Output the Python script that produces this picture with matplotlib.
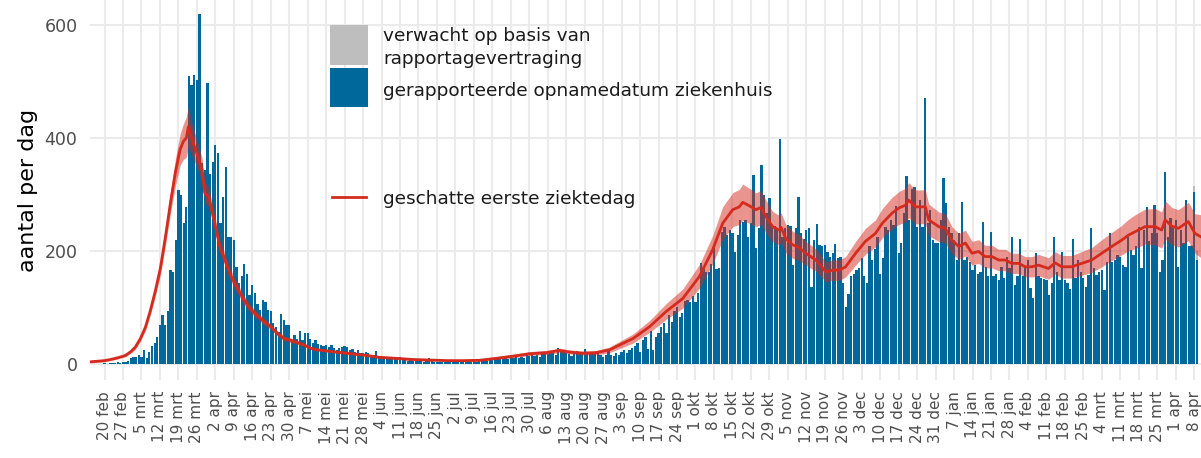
import numpy as np
import pandas as pd
import matplotlib
matplotlib.use("Agg")
import matplotlib.pyplot as plt
import matplotlib.dates as mdates
from matplotlib.patches import Rectangle
from matplotlib.lines import Line2D

# ---------------- data ----------------
start_date = "2020-02-20"   # day 0 of the bar series

# reported hospital admissions per day (day 0 = 20 feb 2020)
reported = [
    1, 0, 2, 1, 2, 3, 2, 4, 3, 5,
    10, 13, 13, 16, 12, 24, 10, 22, 31, 37,
    48, 69, 87, 69, 93, 166, 163, 219, 308, 299,
    249, 278, 510, 494, 511, 503, 619, 355, 343, 497,
    337, 358, 388, 373, 249, 296, 348, 225, 225, 219,
    172, 143, 155, 177, 160, 122, 140, 125, 107, 96,
    113, 110, 96, 93, 72, 66, 57, 88, 78, 69,
    69, 42, 51, 45, 59, 42, 55, 55, 45, 37,
    42, 35, 34, 31, 34, 30, 34, 28, 25, 28,
    30, 31, 30, 25, 26, 22, 25, 19, 19, 22,
    20, 16, 16, 23, 14, 13, 12, 10, 10, 13,
    9, 10, 12, 7, 7, 6, 8, 6, 5, 6,
    5, 4, 6, 10, 5, 4, 3, 4, 3, 4,
    3, 3, 4, 3, 4, 3, 4, 3, 5, 4,
    5, 4, 6, 5, 7, 6, 8, 7, 8, 10,
    9, 8, 10, 9, 13, 11, 12, 10, 13, 11,
    16, 14, 18, 15, 16, 13, 19, 17, 18, 20,
    20, 16, 29, 22, 22, 19, 17, 15, 21, 23,
    19, 17, 26, 20, 18, 17, 20, 19, 16, 13,
    16, 25, 16, 15, 19, 16, 22, 25, 19, 25,
    29, 31, 38, 22, 42, 47, 26, 59, 25, 48,
    54, 66, 72, 54, 87, 75, 93, 100, 84, 90,
    112, 114, 110, 120, 110, 126, 178, 169, 163, 163,
    177, 211, 168, 169, 234, 243, 228, 237, 231, 199,
    228, 255, 252, 255, 225, 250, 334, 205, 240, 352,
    299, 267, 293, 246, 244, 237, 398, 225, 240, 246,
    244, 175, 240, 295, 231, 222, 237, 240, 137, 219,
    248, 211, 208, 211, 199, 190, 196, 212, 187, 190,
    143, 100, 124, 155, 160, 166, 169, 187, 155, 143,
    208, 184, 203, 225, 160, 187, 243, 237, 255, 246,
    280, 196, 214, 267, 332, 255, 309, 313, 243, 290,
    243, 470, 249, 273, 219, 214, 214, 255, 329, 284,
    243, 231, 219, 184, 231, 286, 184, 190, 181, 166,
    175, 160, 163, 252, 172, 155, 234, 155, 160, 149,
    172, 152, 190, 170, 225, 140, 155, 221, 155, 172,
    184, 134, 116, 196, 155, 152, 150, 149, 122, 143,
    224, 163, 149, 199, 149, 143, 132, 221, 153, 184,
    163, 153, 137, 158, 240, 169, 158, 163, 166, 131,
    181, 231, 181, 184, 193, 190, 175, 172, 225, 202,
    193, 208, 243, 169, 237, 278, 217, 231, 281, 231,
    163, 184, 340, 225, 258, 243, 255, 172, 237, 214,
    290, 208, 208, 305, 184,
]

# expected extra (reporting delay) on the last days
expected_days = [412, 413, 414]
expected_extra = [3, 10, 16]

# estimated first day of illness: day, mean, lower, upper
line_days = [
    -5, 0, 2.3, 5, 7.9, 10, 11.7, 13.6, 15.5, 17.4, 19.3, 21.2, 23.1, 25, 26.9, 28.7, 29.9, 31, 31.8,
    33, 35, 37, 38, 39.5,
    41.5, 44, 45, 47.5, 50, 52.5, 55, 58, 60.5, 63, 65.5, 68, 70.5, 73, 75.5, 78, 80.5, 83, 86, 92,
    98, 104, 110.7, 117, 123, 130, 136, 142, 148.5, 155, 161, 167.4, 172.5, 176.3, 181.3, 186.3, 191.4, 194, 200.3, 206.6,
    212.9, 219.2, 225.5, 230.5, 234.3, 238.1, 240.6, 241.9, 244.4, 246.9, 248.8, 250.7, 253.2, 255.7, 256.4, 258.2, 260.8, 263.3, 265.8, 269.6,
    273.4, 276, 278.5, 280.9, 284.7, 288.4, 292.2, 294.8, 298.5, 301.1, 303.6, 304.8, 307.4, 311.1, 312.4, 316.2, 318.7, 321.2, 323.8, 326.3,
    328.8, 331.3, 333.8, 336.4, 338.9, 341.4, 343.9, 346.5, 349, 351.5, 354, 357.8, 360.3, 362.8, 366.6, 370.4, 374.2, 378, 381.8, 385.5,
    388.1, 390.6, 394.4, 398.2, 400.7, 402, 404.5, 407, 410.8, 413.3, 415.6,
]
line_mid = [
    4, 6, 8, 11, 15, 22, 30, 45, 65, 95, 130, 170, 225, 285, 340, 380, 394, 400, 420,
    399, 373, 343, 302, 296,
    255, 202, 193, 160, 137, 116, 99, 85, 75, 66, 54, 45, 42, 38, 34, 28, 25, 24, 22, 19,
    16, 12, 10, 8, 7, 6, 6, 6.5, 10, 14, 18, 20, 24, 21, 19, 20, 25, 31, 45, 66,
    93, 116, 155, 202, 249, 273, 278, 286, 280, 273, 277, 261, 243, 237, 242, 222, 211, 206, 196, 184,
    163, 166, 166, 172, 196, 217, 231, 249, 267, 276, 281, 290, 278, 278, 255, 243, 240, 219, 208, 214,
    196, 199, 190, 190, 184, 184, 178, 178, 172, 172, 175, 169, 179, 172, 172, 178, 184, 196, 208, 219,
    228, 234, 243, 243, 237, 255, 244, 240, 252, 231, 225,
]
line_lo = [
    2, 4, 6, 9, 13, 19, 26, 40, 59, 87, 120, 158, 210, 266, 316, 352, 362, 366, 385,
    370, 348, 322, 284, 279,
    241, 191, 182, 150, 128, 108, 92, 79, 69, 61, 50, 41, 38, 35, 31, 26, 23, 22, 20, 17,
    14, 10, 8, 6, 5, 5, 5, 5, 8, 11, 15, 17, 20, 18, 16, 16, 20, 25, 37, 56,
    79, 99, 134, 177, 220, 243, 247, 254, 249, 243, 247, 232, 216, 211, 216, 197, 187, 183, 175, 164,
    145, 148, 148, 154, 175, 194, 207, 223, 239, 247, 251, 259, 248, 248, 227, 217, 214, 195, 185, 191,
    175, 178, 170, 170, 165, 165, 160, 160, 154, 154, 156, 150, 159, 152, 152, 157, 162, 172, 183, 193,
    200, 204, 212, 211, 205, 221, 211, 207, 218, 196, 188,
]
line_hi = [
    6, 8, 10, 13, 18, 25, 34, 50, 71, 103, 140, 183, 241, 305, 364, 408, 425, 437, 456,
    428, 397, 364, 322, 313,
    269, 214, 204, 170, 146, 124, 106, 91, 81, 71, 59, 50, 46, 42, 37, 31, 28, 27, 25, 22,
    18, 14, 12, 10, 9, 8, 8, 9, 13, 17, 22, 24, 28, 25, 23, 24, 30, 37, 53, 77,
    107, 133, 176, 227, 278, 303, 309, 318, 311, 303, 307, 290, 270, 263, 268, 247, 235, 229, 217, 204,
    181, 184, 184, 190, 217, 240, 255, 275, 295, 305, 311, 321, 308, 308, 283, 269, 266, 243, 231, 237,
    217, 220, 210, 210, 203, 203, 196, 196, 190, 190, 194, 188, 199, 192, 192, 199, 206, 220, 233, 245,
    256, 264, 274, 275, 269, 289, 277, 273, 286, 266, 264,
]

yticks = [0, 200, 400, 600]
months_nl = ["jan", "feb", "mrt", "apr", "mei", "jun", "jul", "aug", "sep", "okt", "nov", "dec"]
tick_first = "2020-02-20"
tick_last = "2021-04-08"

legend_labels = ["verwacht op basis van\nrapportagevertraging",
                 "gerapporteerde opnamedatum ziekenhuis",
                 "geschatte eerste ziektedag"]
ylabel = "aantal per dag"

# ---------------- style ----------------
BLUE = "#01689B"
GRAY = "#BEBEBE"
RED = "#D52B1E"
GRID = "#EBEBEB"
TXT = "#4D4D4D"

W, H = 1201, 458
fig = plt.figure(figsize=(W / 100, H / 100), dpi=100)
ax = fig.add_axes([90 / W, 1 - 380 / H, (W - 90) / W, 380 / H])

base = mdates.date2num(pd.Timestamp(start_date))
xb = base + np.arange(len(reported))
rep = np.array(reported, dtype=float)

ax.bar(xb, rep, width=0.86, color=BLUE, linewidth=0, zorder=2)
ed = np.array(expected_days)
ax.bar(base + ed, expected_extra, bottom=rep[ed], width=0.86, color=GRAY,
       linewidth=0, zorder=2)

xl = base + np.array(line_days)
ax.fill_between(xl, line_lo, line_hi, color=RED, alpha=0.5, linewidth=0, zorder=3)
ax.plot(xl, line_mid, color=RED, lw=2.0, zorder=4, solid_joinstyle="round")

ax.set_xlim(base - 5.5, base + 415.6)
ax.set_ylim(-28.3, 644)

tick_dates = pd.date_range(tick_first, tick_last, freq="7D")
ax.set_xticks(mdates.date2num(tick_dates))
ax.set_xticklabels([f"{d.day} {months_nl[d.month - 1]}" for d in tick_dates],
                   rotation=90, fontsize=11, color=TXT)
ax.set_yticks(yticks)
ax.set_yticklabels([str(v) for v in yticks], fontsize=12.5, color=TXT)
ax.tick_params(axis="both", length=0)
ax.tick_params(axis="x", pad=8)
ax.tick_params(axis="y", pad=9)

ax.grid(True, color=GRID, lw=1.5)
ax.set_axisbelow(True)
for s in ax.spines.values():
    s.set_visible(False)


def fx(px):
    return px / W


def fy(py):
    return 1 - py / H


fig.text(fx(28), fy(190), ylabel, rotation=90, ha="center", va="center", fontsize=16)

# legend (manual)
fig.patches.append(Rectangle((fx(330), fy(65)), 38 / W, 40 / H, transform=fig.transFigure,
                             facecolor=GRAY, edgecolor="none"))
fig.patches.append(Rectangle((fx(330), fy(107)), 38 / W, 39 / H, transform=fig.transFigure,
                             facecolor=BLUE, edgecolor="none"))
fig.lines.append(Line2D([fx(332), fx(366)], [fy(197), fy(197)], transform=fig.transFigure,
                        color=RED, lw=2.0))
l1, l2 = legend_labels[0].split("\n")
LFS = 13.3
fig.text(fx(383), fy(41), l1, fontsize=LFS, va="baseline", ha="left", color="#1A1A1A")
fig.text(fx(383), fy(64), l2, fontsize=LFS, va="baseline", ha="left", color="#1A1A1A")
fig.text(fx(383), fy(96), legend_labels[1], fontsize=LFS, va="baseline", ha="left", color="#1A1A1A")
fig.text(fx(383), fy(204), legend_labels[2], fontsize=LFS, va="baseline", ha="left", color="#1A1A1A")

fig.savefig("out.png", dpi=100)
